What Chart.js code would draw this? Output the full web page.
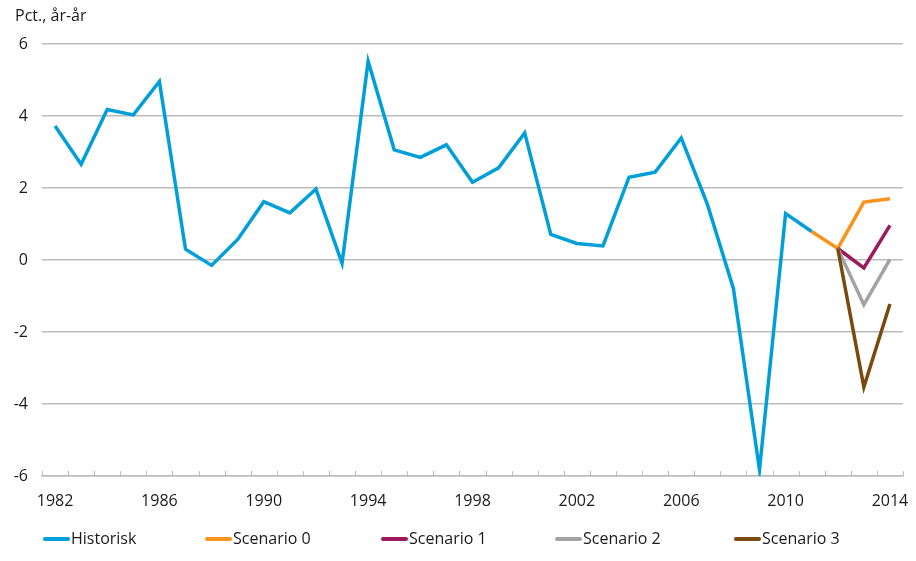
<!DOCTYPE html>
<html>
<head>
<meta charset="utf-8">
<script src="https://cdn.jsdelivr.net/npm/chart.js@4.4.1/dist/chart.umd.min.js"></script>
<style>
  html, body { margin: 0; padding: 0; background: #fff; }
  #wrap { width: 916px; height: 561px; position: relative; }
</style>
</head>
<body>
<div id="wrap"><canvas id="chart"></canvas></div>
<script>
// ---------- data ----------
const years = [];
for (let y = 1982; y <= 2014; y++) years.push(String(y));

const historisk = [3.72, 2.66, 4.18, 4.03, 4.96, 0.30, -0.15, 0.57, 1.62, 1.31,
                   1.97, -0.09, 5.52, 3.06, 2.85, 3.20, 2.16, 2.56, 3.53, 0.71,
                   0.46, 0.39, 2.30, 2.44, 3.39, 1.55, -0.79, -5.83, 1.29, 0.79,
                   null, null, null];
const pad = n => Array(n).fill(null);
const scenario0 = [...pad(29), 0.79, 0.32, 1.61, 1.70];
const scenario1 = [...pad(30), 0.32, -0.22, 0.96];
const scenario2 = [...pad(30), 0.32, -1.24, 0.02];
const scenario3 = [...pad(30), 0.32, -3.53, -1.22];

const yTicks = [-6, -4, -2, 0, 2, 4, 6];
const seriesNames = ['Historisk', 'Scenario 0', 'Scenario 1', 'Scenario 2', 'Scenario 3'];
const seriesColors = ['#009fda', '#f7941d', '#9a1a5c', '#a3a3a3', '#7a4a0c'];

const FONT = '"Open Sans", "Noto Sans", sans-serif';
const TXT = '#1a1a1a';
const GRID = '#bcbcbc';

// ---------- egne tegninger: titel, tick-streger, legende ----------
const extras = {
  id: 'extras',
  afterDraw(chart) {
    const ctx = chart.ctx;
    const xs = chart.scales.x;
    ctx.save();
    // y-akse titel
    ctx.fillStyle = TXT;
    ctx.font = '16px ' + FONT;
    ctx.textBaseline = 'middle';
    ctx.textAlign = 'left';
    ctx.fillText('Pct., år-år', 15, 16);

    // tick-streger opad fra x-aksen, mellem kategorierne
    ctx.strokeStyle = GRID;
    ctx.lineWidth = 1;
    const n = years.length;
    const step = (xs.right - xs.left) / n;
    for (let i = 0; i <= n; i++) {
      const x = Math.round(xs.left + i * step) + 0.5;
      ctx.beginPath();
      ctx.moveTo(x, xs.top);
      ctx.lineTo(x, xs.top - 5);
      ctx.stroke();
    }

    // legende
    const starts = [44, 206, 382, 556, 735];
    const ly = 539;
    seriesNames.forEach((name, i) => {
      ctx.strokeStyle = seriesColors[i];
      ctx.lineWidth = 4;
      ctx.lineCap = 'round';
      ctx.beginPath();
      ctx.moveTo(starts[i] + 1, ly);
      ctx.lineTo(starts[i] + 24, ly);
      ctx.stroke();
      ctx.fillStyle = TXT;
      ctx.fillText(name, starts[i] + 27, ly);
    });
    ctx.restore();
  }
};

function makeSet(label, data, color) {
  return {
    label, data,
    borderColor: color,
    backgroundColor: color,
    borderWidth: 3.5,
    pointRadius: 0,
    tension: 0,
    spanGaps: false,
  };
}

new Chart(document.getElementById('chart'), {
  type: 'line',
  data: {
    labels: years,
    datasets: [
      makeSet(seriesNames[0], historisk, seriesColors[0]),
      makeSet(seriesNames[1], scenario0, seriesColors[1]),
      makeSet(seriesNames[2], scenario1, seriesColors[2]),
      makeSet(seriesNames[3], scenario2, seriesColors[3]),
      makeSet(seriesNames[4], scenario3, seriesColors[4]),
    ].reverse()
  },
  options: {
    responsive: true,
    maintainAspectRatio: false,
    animation: false,
    layout: { padding: { top: 44, right: 13, left: 0, bottom: 0 } },
    plugins: {
      legend: { display: false },
      tooltip: { enabled: false },
    },
    scales: {
      x: {
        type: 'category',
        offset: true,
        grid: { display: false, drawTicks: false },
        border: { display: true, color: GRID, width: 1.5 },
        ticks: {
          autoSkip: false,
          maxRotation: 0,
          padding: 16,
          color: TXT,
          font: { family: FONT, size: 16 },
          callback: (v, i) => (i % 4 === 0 ? years[i] : ''),
        },
        afterFit: s => { s.height = 85; s.paddingLeft = 0; s.paddingRight = 0; },
      },
      y: {
        min: -6,
        max: 6,
        afterBuildTicks: s => { s.ticks = yTicks.map(v => ({ value: v })); },
        grid: { color: GRID, lineWidth: 1.5, drawTicks: false },
        border: { display: false },
        ticks: {
          padding: 14,
          color: TXT,
          font: { family: FONT, size: 16 },
        },
        afterFit: s => { s.width = 42; s.paddingTop = 0; s.paddingBottom = 0; },
      },
    },
  },
  plugins: [extras],
});
</script>
</body>
</html>
